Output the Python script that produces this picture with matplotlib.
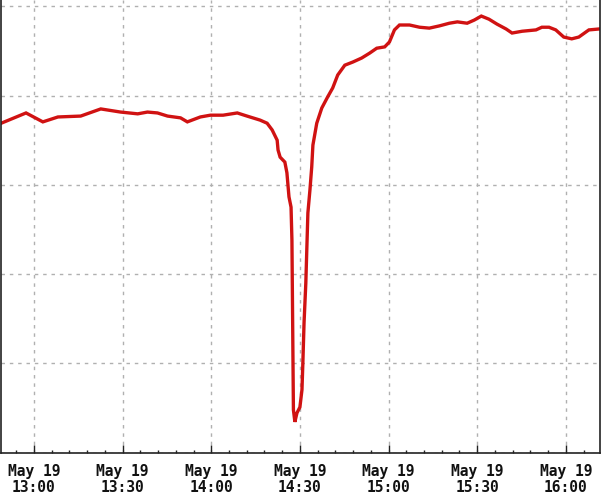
import matplotlib
matplotlib.use("Agg")
import matplotlib.pyplot as plt
import matplotlib.dates as mdates
import pandas as pd

# minutes after 13:00 on May 19, and the signal level at that time
minutes = [-11.1, -2.7, 3.0, 8.1, 15.8, 22.6, 29.3, 35.1, 38.4, 41.8, 45.2,
           49.6, 51.9, 56.3, 59.7, 64.0, 68.8, 72.1, 76.5, 78.9, 80.6, 82.3,
           82.6, 83.3, 84.9, 85.6, 86.3, 87.0, 87.3, 87.5, 87.8, 88.3, 89.0,
           90.0, 90.7, 91.0, 91.4, 92.0, 92.4, 92.7, 93.4, 94.0, 94.4, 95.7,
           97.4, 99.4, 101.1, 102.8, 105.2, 107.9, 110.9, 113.6, 116.0,
           118.7, 120.3, 122.0, 123.7, 127.1, 130.5, 133.8, 137.2, 140.6,
           143.3, 146.6, 149.0, 151.4, 154.0, 156.7, 159.8, 161.8, 165.2,
           169.9, 171.9, 174.3, 176.6, 179.3, 182.0, 184.4, 187.8, 191.1]
values = [73.8, 76.1, 74.1, 75.2, 75.4, 77.0, 76.3, 75.9, 76.3, 76.1, 75.4,
          75.0, 74.1, 75.2, 75.6, 75.6, 76.1, 75.4, 74.5, 73.8, 72.3, 70.0,
          67.8, 66.2, 65.1, 62.7, 57.3, 55.0, 47.6, 32.6, 9.6, 6.9, 8.9,
          10.2, 14.1, 20.1, 29.1, 38.0, 47.0, 53.7, 58.9, 64.0, 68.9, 73.8,
          77.2, 79.7, 81.7, 84.6, 86.8, 87.5, 88.4, 89.5, 90.6,
          90.9, 92.0, 94.7, 95.8, 95.8, 95.3, 95.1, 95.6, 96.2,
          96.5, 96.2, 96.9, 97.8, 97.1, 96.0, 94.9, 94.0, 94.4,
          94.7, 95.3, 95.3, 94.7, 93.1, 92.7, 93.1, 94.7, 94.9]

start = pd.Timestamp("2021-05-19 13:00")
times = [start + pd.Timedelta(minutes=m) for m in minutes]

fig = plt.figure(figsize=(6.01, 4.99), dpi=100)
ax = fig.add_axes([0.002, 0.0928, 0.996, 0.9072])

ax.plot(times, values, color="#d01212", linewidth=2.4, solid_joinstyle="miter")

ax.set_xlim(start + pd.Timedelta(minutes=-11.1), start + pd.Timedelta(minutes=191.5))
ax.set_ylim(0, 101.4)

ax.xaxis.set_major_locator(mdates.MinuteLocator(byminute=[0, 30]))
ax.xaxis.set_minor_locator(mdates.MinuteLocator(byminute=range(0, 60, 6)))
ax.xaxis.set_major_formatter(mdates.DateFormatter("%b %d\n%H:%M"))
ax.set_yticks([0, 20, 40, 60, 80, 100])
ax.set_yticklabels([])

ax.grid(True, which="major", color="#b0b0b0", linestyle=(0, (2.5, 3.5)), linewidth=1)
ax.tick_params(axis="x", which="major", direction="in", length=6, width=1,
               color="#222222", pad=8, labelsize=10.5, labelcolor="#111111")
ax.tick_params(axis="x", which="minor", direction="in", length=2.5, width=1,
               color="#222222")
ax.tick_params(axis="y", length=0)
for lbl in ax.get_xticklabels():
    lbl.set_fontfamily("DejaVu Sans Mono")
    lbl.set_fontweight("bold")
    lbl.set_linespacing(1.08)
    lbl.set_multialignment("center")

ax.spines["top"].set_visible(False)
for side in ["left", "bottom", "right"]:
    ax.spines[side].set_color("#222222")
    ax.spines[side].set_linewidth(1.2)

fig.savefig("out.png", dpi=100)
